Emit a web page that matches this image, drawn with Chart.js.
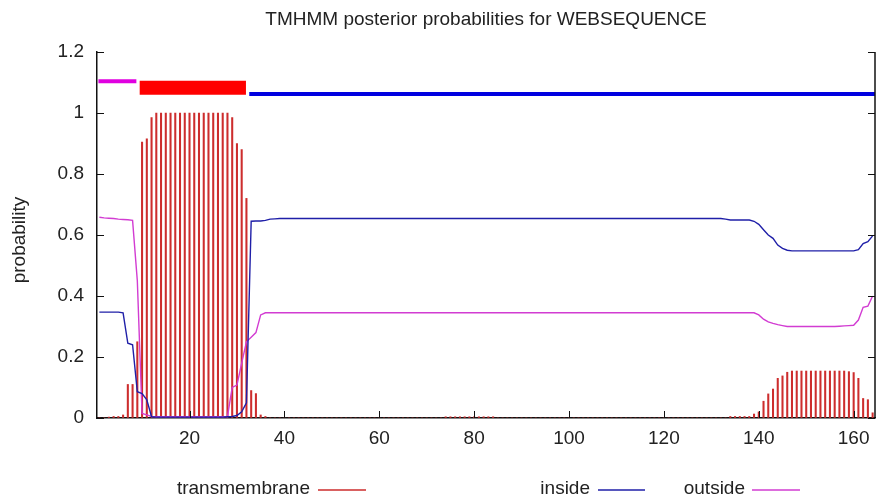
<!DOCTYPE html>
<html>
<head>
<meta charset="utf-8">
<script src="https://cdn.jsdelivr.net/npm/chart.js@4"></script>
<style>
html,body{margin:0;padding:0;background:#fff;}
#wrap{width:879px;height:499px;}
</style>
</head>
<body>
<div id="wrap"><canvas id="c" width="879" height="499"></canvas></div>
<script>
// ---- data (residues 1..164) ----
var titleText = "TMHMM posterior probabilities for WEBSEQUENCE";
var seriesNames = ["transmembrane", "inside", "outside"];

var tmProb = [
 0, 0, 0.003, 0.005, 0.005, 0.01, 0.11, 0.11, 0.25, 0.905,
 0.915, 0.985, 1, 1, 1, 1, 1, 1, 1, 1,
 1, 1, 1, 1, 1, 1, 1, 1, 0.985, 0.9,
 0.88, 0.72, 0.09, 0.08, 0.01, 0.005, 0, 0, 0, 0,
 0, 0, 0, 0, 0, 0, 0, 0, 0, 0,
 0, 0, 0, 0, 0, 0, 0, 0, 0, 0,
 0, 0, 0, 0, 0, 0, 0, 0, 0, 0,
 0, 0, 0, 0.004, 0.004, 0.004, 0.004, 0.004, 0.004, 0.004,
 0.004, 0.004, 0.004, 0.004, 0, 0, 0, 0, 0, 0,
 0, 0, 0, 0, 0, 0, 0, 0, 0, 0,
 0, 0, 0, 0, 0, 0, 0, 0, 0, 0,
 0, 0, 0, 0, 0, 0, 0, 0, 0, 0,
 0, 0, 0, 0, 0, 0, 0, 0, 0, 0,
 0, 0, 0, 0.005, 0.005, 0.005, 0.005, 0.005, 0.013, 0.02,
 0.055, 0.079, 0.095, 0.13, 0.138, 0.15, 0.154, 0.154, 0.154, 0.154,
 0.154, 0.154, 0.154, 0.154, 0.154, 0.154, 0.154, 0.154, 0.152, 0.149,
 0.13, 0.064, 0.06, 0.017
];

var insideProb = [
 0.347, 0.347, 0.347, 0.347, 0.347, 0.345, 0.245, 0.24, 0.086, 0.08,
 0.06, 0.004, 0.003, 0.003, 0.003, 0.003, 0.003, 0.003, 0.003, 0.003,
 0.003, 0.003, 0.003, 0.003, 0.003, 0.003, 0.003, 0.004, 0.005, 0.008,
 0.02, 0.05, 0.645, 0.646, 0.646, 0.648, 0.652, 0.653, 0.654, 0.654,
 0.654, 0.654, 0.654, 0.654, 0.654, 0.654, 0.654, 0.654, 0.654, 0.654,
 0.654, 0.654, 0.654, 0.654, 0.654, 0.654, 0.654, 0.654, 0.654, 0.654,
 0.654, 0.654, 0.654, 0.654, 0.654, 0.654, 0.654, 0.654, 0.654, 0.654,
 0.654, 0.654, 0.654, 0.654, 0.654, 0.654, 0.654, 0.654, 0.654, 0.654,
 0.654, 0.654, 0.654, 0.654, 0.654, 0.654, 0.654, 0.654, 0.654, 0.654,
 0.654, 0.654, 0.654, 0.654, 0.654, 0.654, 0.654, 0.654, 0.654, 0.654,
 0.654, 0.654, 0.654, 0.654, 0.654, 0.654, 0.654, 0.654, 0.654, 0.654,
 0.654, 0.654, 0.654, 0.654, 0.654, 0.654, 0.654, 0.654, 0.654, 0.654,
 0.654, 0.654, 0.654, 0.654, 0.654, 0.654, 0.654, 0.654, 0.654, 0.654,
 0.654, 0.654, 0.652, 0.649, 0.649, 0.649, 0.649, 0.649, 0.645, 0.635,
 0.617, 0.6, 0.589, 0.567, 0.556, 0.55, 0.548, 0.548, 0.548, 0.548,
 0.548, 0.548, 0.548, 0.548, 0.548, 0.548, 0.548, 0.548, 0.548, 0.548,
 0.552, 0.572, 0.578, 0.597
];

var outsideProb = [
 0.658, 0.656, 0.655, 0.654, 0.652, 0.651, 0.65, 0.648, 0.45, 0.015,
 0.01, 0.005, 0.004, 0.004, 0.004, 0.004, 0.004, 0.004, 0.004, 0.004,
 0.004, 0.004, 0.004, 0.004, 0.004, 0.004, 0.004, 0.005, 0.1, 0.108,
 0.18, 0.25, 0.265, 0.28, 0.338, 0.345, 0.345, 0.345, 0.345, 0.345,
 0.345, 0.345, 0.345, 0.345, 0.345, 0.345, 0.345, 0.345, 0.345, 0.345,
 0.345, 0.345, 0.345, 0.345, 0.345, 0.345, 0.345, 0.345, 0.345, 0.345,
 0.345, 0.345, 0.345, 0.345, 0.345, 0.345, 0.345, 0.345, 0.345, 0.345,
 0.345, 0.345, 0.345, 0.345, 0.345, 0.345, 0.345, 0.345, 0.345, 0.345,
 0.345, 0.345, 0.345, 0.345, 0.345, 0.345, 0.345, 0.345, 0.345, 0.345,
 0.345, 0.345, 0.345, 0.345, 0.345, 0.345, 0.345, 0.345, 0.345, 0.345,
 0.345, 0.345, 0.345, 0.345, 0.345, 0.345, 0.345, 0.345, 0.345, 0.345,
 0.345, 0.345, 0.345, 0.345, 0.345, 0.345, 0.345, 0.345, 0.345, 0.345,
 0.345, 0.345, 0.345, 0.345, 0.345, 0.345, 0.345, 0.345, 0.345, 0.345,
 0.345, 0.345, 0.345, 0.345, 0.345, 0.345, 0.345, 0.345, 0.345, 0.338,
 0.324, 0.315, 0.31, 0.306, 0.303, 0.3, 0.3, 0.3, 0.3, 0.3,
 0.3, 0.3, 0.3, 0.3, 0.3, 0.3, 0.301, 0.302, 0.303, 0.304,
 0.321, 0.363, 0.367, 0.4
];

// predicted topology bars drawn above the curves: [from, to, level]
var topoOutside = [0.8, 8.8, 1.104];
var topoTM = [9.5, 31.9, 1.083];
var topoInside = [32.6, 165, 1.062];

var xTickVals = [20, 40, 60, 80, 100, 120, 140, 160];
var yTickVals = [0, 0.2, 0.4, 0.6, 0.8, 1, 1.2];

// ---- colours ----
var cTM = 'rgb(205,45,45)', cIn = '#1f1fa8', cOut = '#d23cd2';

function pts(arr){
    var out = [];
    for (var i = 0; i < arr.length; i++) out.push({x: i + 1, y: arr[i]});
    return out;
}
function seg(s){ return [{x: s[0], y: s[2]}, {x: s[1], y: s[2]}]; }

var legendItems = [
    {label: seriesNames[0], color: cTM, textEnd: 310, x1: 318, x2: 366},
    {label: seriesNames[1], color: cIn, textEnd: 590, x1: 598, x2: 645},
    {label: seriesNames[2], color: cOut, textEnd: 745, x1: 752, x2: 800}
];

var decor = {
    id: 'decor',
    afterDraw: function(chart){
        var ctx = chart.ctx, a = chart.chartArea, xs = chart.scales.x, ys = chart.scales.y;
        ctx.save();
        ctx.strokeStyle = '#111';
        ctx.lineWidth = 1.5;
        function ln(x1, y1, x2, y2){ ctx.beginPath(); ctx.moveTo(x1, y1); ctx.lineTo(x2, y2); ctx.stroke(); }
        ln(a.right, a.top, a.right, a.bottom);
        ctx.lineWidth = 1;
        yTickVals.forEach(function(v){
            var y = Math.round(ys.getPixelForValue(v)) + 0.5;
            ln(a.left, y, a.left + 7, y);
            ln(a.right - 7, y, a.right, y);
        });
        xTickVals.forEach(function(v){
            var x = Math.round(xs.getPixelForValue(v)) + 0.5;
            ln(x, a.bottom, x, a.bottom - 7);
        });
        ctx.fillStyle = '#222';
        ctx.font = '19px "Liberation Sans", Arial, sans-serif';
        ctx.textBaseline = 'middle';
        ctx.textAlign = 'center';
        ctx.fillText(titleText, (a.left + a.right) / 2, 20);
        // legend: text then sample line
        ctx.textAlign = 'right';
        legendItems.forEach(function(it){
            ctx.fillStyle = '#222';
            ctx.fillText(it.label, it.textEnd, 489);
            ctx.strokeStyle = it.color;
            ctx.lineWidth = 1.5;
            ln(it.x1, 490, it.x2, 490);
        });
        // y axis title
        ctx.fillStyle = '#222';
        ctx.textAlign = 'center';
        ctx.translate(20, 240);
        ctx.rotate(-Math.PI / 2);
        ctx.fillText('probability', 0, 0);
        ctx.restore();
    }
};

new Chart(document.getElementById('c'), {
    type: 'bar',
    data: {
        datasets: [
            {type: 'line', data: seg(topoOutside), borderColor: '#e000e0', borderWidth: 4, pointRadius: 0, borderCapStyle: 'butt'},
            {type: 'line', data: seg(topoTM), borderColor: '#ff0000', borderWidth: 14, pointRadius: 0, borderCapStyle: 'butt'},
            {type: 'line', data: seg(topoInside), borderColor: '#0000e0', borderWidth: 4, pointRadius: 0, borderCapStyle: 'butt'},
            {type: 'line', label: seriesNames[1], data: pts(insideProb), borderColor: cIn, borderWidth: 1.4, pointRadius: 0, tension: 0},
            {type: 'line', label: seriesNames[2], data: pts(outsideProb), borderColor: cOut, borderWidth: 1.4, pointRadius: 0, tension: 0},
            {label: seriesNames[0], data: pts(tmProb), backgroundColor: cTM, barThickness: 1.4, borderWidth: 0}
        ]
    },
    options: {
        responsive: false,
        animation: false,
        devicePixelRatio: 1,
        layout: {padding: {left: 0, right: 4, top: 52, bottom: 0}},
        plugins: {legend: {display: false}, title: {display: false}, tooltip: {enabled: false}},
        scales: {
            x: {
                type: 'linear', min: 0.5, max: 164.5, offset: false,
                afterFit: function(s){ s.height = 81; },
                afterBuildTicks: function(s){ s.ticks = xTickVals.map(function(v){ return {value: v}; }); },
                grid: {display: true, drawOnChartArea: false, drawTicks: false},
                border: {display: true, color: '#111', width: 1.5},
                ticks: {padding: 9, color: '#222', font: {family: '"Liberation Sans", Arial, sans-serif', size: 19}, maxRotation: 0}
            },
            y: {
                min: 0, max: 1.2,
                afterFit: function(s){ s.width = 97; },
                afterBuildTicks: function(s){ s.ticks = yTickVals.map(function(v){ return {value: v}; }); },
                grid: {display: true, drawOnChartArea: false, drawTicks: false},
                border: {display: true, color: '#111', width: 1.5},
                ticks: {padding: 13, color: '#222', font: {family: '"Liberation Sans", Arial, sans-serif', size: 19},
                    callback: function(v){ return String(v); }}
            }
        }
    },
    plugins: [decor]
});
</script>
</body>
</html>
